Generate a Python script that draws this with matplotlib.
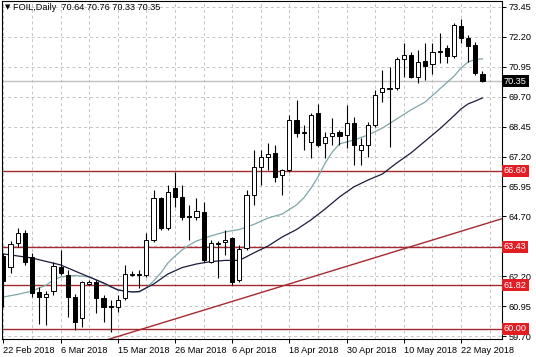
import matplotlib
matplotlib.use("Agg")
import matplotlib.pyplot as plt
import matplotlib.transforms as mtransforms
import numpy as np

# ---- data ----
opens = [63.05, 62.60, 63.58, 64.02, 62.99, 61.55, 61.34, 61.58, 62.60, 62.25,
         61.34, 60.44, 61.88, 61.97, 61.28, 60.95, 60.90, 61.30, 62.25, 62.25,
         62.25, 63.71, 65.46, 64.20, 65.87, 65.52, 64.70, 64.69, 64.90, 62.81,
         63.55, 63.62, 63.78, 62.03, 63.37, 65.59, 66.78, 67.19, 67.34, 66.43,
         66.64, 68.73, 68.20, 67.82, 69.01, 67.75, 68.06, 68.21, 68.10, 68.59,
         67.47, 67.68, 68.52, 69.91, 70.02, 70.05, 71.26, 71.44, 70.54, 71.19,
         71.07, 71.56, 71.72, 71.40, 72.66, 72.14, 71.86, 70.64]
highs = [63.15, 63.68, 64.20, 64.13, 63.16, 61.76, 61.60, 62.81, 63.30, 62.46,
         61.46, 62.01, 62.05, 62.04, 61.41, 61.21, 61.41, 62.65, 62.40, 62.45,
         63.99, 65.80, 65.52, 66.01, 66.57, 66.01, 65.18, 65.46, 65.31, 63.71,
         63.65, 64.13, 63.85, 63.50, 65.80, 67.47, 67.47, 67.75, 67.68, 66.70,
         68.94, 69.56, 68.52, 69.01, 69.38, 68.24, 68.80, 68.31, 69.35, 68.87,
         67.96, 68.66, 69.98, 70.82, 70.96, 71.37, 71.93, 71.58, 71.65, 71.93,
         71.93, 72.35, 71.86, 72.77, 72.94, 72.28, 72.00, 70.76]
lows = [60.90, 62.32, 63.43, 62.67, 61.32, 60.20, 60.15, 61.42, 62.25, 60.51,
        59.95, 60.09, 61.85, 60.65, 60.30, 59.88, 60.72, 61.20, 62.20, 61.70,
        62.18, 63.64, 64.13, 64.13, 65.10, 64.55, 63.71, 64.55, 62.81, 62.74,
        62.11, 63.09, 61.83, 61.96, 63.30, 65.18, 66.01, 66.64, 66.15, 65.59,
        66.57, 68.03, 67.47, 67.13, 67.61, 67.13, 67.68, 67.68, 67.55, 66.85,
        66.85, 67.19, 68.44, 69.49, 67.61, 69.98, 70.54, 70.47, 70.26, 70.40,
        70.65, 71.10, 71.10, 71.32, 71.93, 71.16, 70.61, 70.33]
closes = [62.00, 63.55, 63.99, 62.81, 61.51, 61.32, 61.46, 62.63, 62.35, 61.34,
          60.30, 61.97, 61.97, 61.28, 60.90, 60.90, 61.21, 62.30, 62.30, 62.30,
          63.71, 65.46, 64.20, 65.73, 65.52, 64.69, 64.68, 64.94, 62.88, 63.58,
          63.58, 63.71, 61.97, 63.35, 65.59, 66.78, 67.19, 67.29, 66.36, 66.64,
          68.73, 68.17, 68.22, 68.94, 67.68, 68.03, 68.17, 68.07, 68.59, 67.68,
          67.68, 68.52, 69.77, 70.05, 70.05, 71.26, 71.44, 70.51, 71.16, 71.00,
          71.58, 71.60, 71.40, 72.70, 72.14, 71.82, 70.68, 70.35]

fast_ma_idx = [0, 2, 4, 6, 7, 8, 10, 12, 13, 15, 17, 19, 20, 21, 22, 23, 24, 25,
               26, 27, 29, 31, 33, 35, 37, 39, 41, 42, 43, 44, 45, 46, 47, 49,
               51, 53, 55, 57, 59, 61, 63, 64, 65, 66, 67]
fast_ma = [61.33, 61.44, 61.58, 61.83, 62.04, 62.17, 62.23, 62.17, 62.04, 61.75,
           61.56, 61.54, 61.71, 62.00, 62.33, 62.75, 63.04, 63.30, 63.50, 63.67,
           63.88, 64.05, 64.15, 64.36, 64.63, 64.80, 65.18, 65.47, 65.87, 66.35,
           66.93, 67.39, 67.73, 67.89, 68.10, 68.39, 68.77, 69.15, 69.48, 70.02,
           70.55, 70.90, 71.15, 71.26, 71.28]
slow_ma_idx = [0, 4, 8, 11, 14, 16, 18, 19, 21, 23, 25, 27, 29, 31, 33, 35, 37,
               39, 41, 43, 45, 47, 49, 51, 53, 55, 57, 59, 61, 63, 64, 65, 66, 67]
slow_ma = [63.13, 62.96, 62.67, 62.29, 61.92, 61.62, 61.54, 61.56, 61.87, 62.29,
           62.56, 62.71, 62.81, 62.86, 62.86, 63.17, 63.46, 63.84, 64.15, 64.55,
           65.01, 65.51, 65.93, 66.22, 66.47, 66.93, 67.35, 67.85, 68.35, 68.90,
           69.19, 69.40, 69.52, 69.65]

levels = [66.60, 63.43, 61.82, 60.00]
trend_idx = [10, 72]
trend_val = [59.13, 64.81]
last_price = 70.35

yticks = [73.45, 72.20, 70.95, 69.70, 68.45, 67.20, 65.95, 64.70, 63.45, 62.20, 60.95, 59.70]
ytick_labels = ["73.45", "72.20", "70.95", "69.70", "68.45", "67.20", "65.95",
                "64.70", "", "62.20", "60.95", "59.70"]
xtick_idx = [0, 8, 16, 24, 32, 40, 48, 56, 64]
xtick_labels = ["22 Feb 2018", "6 Mar 2018", "15 Mar 2018", "26 Mar 2018",
                "6 Apr 2018", "18 Apr 2018", "30 Apr 2018", "10 May 2018",
                "22 May 2018"]
title = "FOIL,Daily  70.64 70.76 70.33 70.35"

# ---- figure ----
plt.rcParams['font.family'] = ['Liberation Sans', 'DejaVu Sans']
W, H = 536, 357
fig = plt.figure(figsize=(W / 100, H / 100), dpi=100)
ax = fig.add_axes([2 / W, (H - 339) / H, 500 / W, 338 / H])
ax.set_xlim(-0.196, 69.73)
ax.set_ylim(59.575, 73.70)

# grid
for v in yticks:
    ax.axhline(v, color='#c4c4c4', lw=0.7, ls=(0, (3, 3)), zorder=0)
for k in range(0, 72, 4):
    ax.axvline(k, color='#c4c4c4', lw=0.7, ls=(0, (3, 3)), zorder=0)

# horizontal levels and trend line
for lv in levels:
    ax.axhline(lv, color='#a52a2f', lw=1.0, zorder=1)
ax.plot(trend_idx, trend_val, color='#a52a2f', lw=1.0, zorder=1)
ax.axhline(last_price, color='#c0c0c0', lw=1.0, zorder=1)

# moving averages
ax.plot(fast_ma_idx, fast_ma, color='#7fa6a8', lw=0.9, zorder=2)
ax.plot(slow_ma_idx, slow_ma, color='#1c1c3c', lw=0.9, zorder=2)

# candles
x = np.arange(len(opens))
o = np.array(opens); c = np.array(closes); h = np.array(highs); l = np.array(lows)
ax.vlines(x, l, h, color='black', lw=0.8, zorder=3)
bottoms = np.minimum(o, c)
heights = np.maximum(np.abs(c - o), 0.03)
facec = ['white' if cc >= oo else 'black' for oo, cc in zip(o, c)]
ax.bar(x, heights, bottom=bottoms, width=0.58, color=facec, edgecolor='black',
       linewidth=0.7, zorder=4)

# axes styling
for s in ax.spines.values():
    s.set_color('black')
    s.set_linewidth(0.8)
ax.yaxis.tick_right()
ax.set_yticks(yticks)
ax.set_yticklabels(ytick_labels)
ax.tick_params(axis='y', direction='out', length=3, width=0.7, pad=2,
               labelsize=6.6, colors='black')
ax.set_xticks(xtick_idx)
ax.set_xticklabels(xtick_labels)
ax.tick_params(axis='x', direction='out', length=3, width=0.7, pad=2,
               labelsize=6.6, colors='black')
for lab in ax.get_xticklabels():
    lab.set_horizontalalignment('left')

# price labels on the right
trans = mtransforms.blended_transform_factory(ax.transAxes, ax.transData)
for lv in levels:
    ax.text(1.004, lv, f"{lv:.2f}", transform=trans, ha='left', va='center',
            fontsize=6.6, color='white', clip_on=False, zorder=10,
            bbox=dict(boxstyle='square,pad=0.18', fc='#e01e24', ec='none'))
ax.text(1.004, last_price, f"{last_price:.2f}", transform=trans, ha='left',
        va='center', fontsize=6.6, color='white', clip_on=False, zorder=10,
        bbox=dict(boxstyle='square,pad=0.18', fc='black', ec='none'))

# title
fig.text(5 / W, 1 - 7 / H, "▼", fontsize=5, va='center', ha='left',
         family=['DejaVu Sans'])
fig.text(13 / W, 1 - 7 / H, title, fontsize=6.6, va='center', ha='left')

fig.savefig("out.png", dpi=100)
